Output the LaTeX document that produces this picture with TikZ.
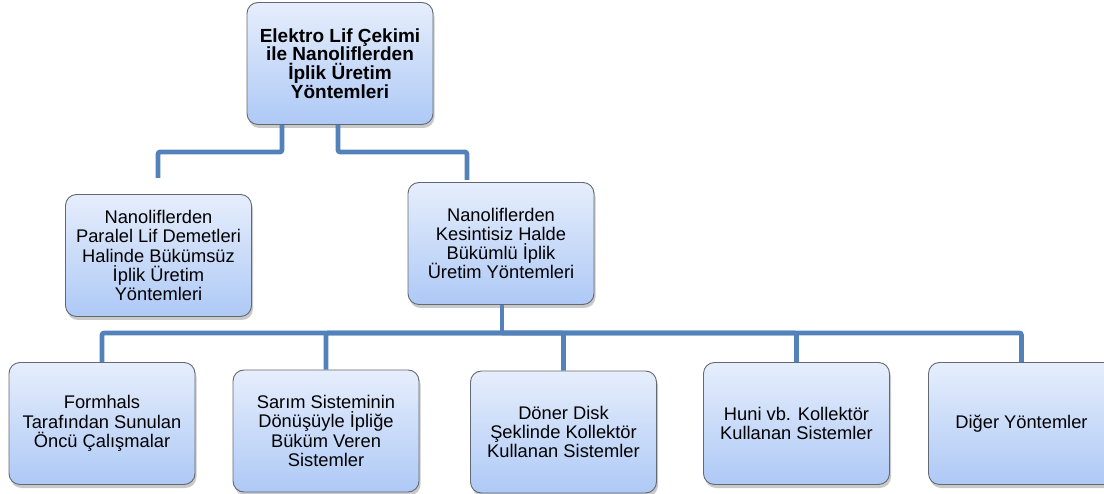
\documentclass[tikz,border=0pt]{standalone}
\usepackage{fontspec}
\setmainfont{Liberation Sans}
\usetikzlibrary{shadows}
\definecolor{conncol}{RGB}{83,129,185}
\definecolor{boxtop}{RGB}{230,238,252}
\definecolor{boxbot}{RGB}{174,201,246}
\definecolor{boxline}{RGB}{100,104,112}
\tikzset{
  box/.style={rectangle, rounded corners=11pt, draw=boxline, line width=0.9pt,
    top color=boxtop, bottom color=boxbot, align=center,
    minimum width=186pt, minimum height=122pt, inner sep=2pt,
    font=\fontsize{18.3}{19.2}\selectfont,
    drop shadow={shadow xshift=1.5pt, shadow yshift=-3.5pt, opacity=0.30, fill=black!70}},
  boldbox/.style={box, font=\fontsize{19}{18.6}\selectfont\bfseries},
  conn/.style={draw=conncol, line width=4.6pt, rounded corners=2pt}
}
\begin{document}
\begin{tikzpicture}[x=1pt,y=-1pt]
\useasboundingbox (0,0) rectangle (1104,494);
% nodes
\node[boldbox] (top) at (340,63.5) {Elektro Lif Çekimi\\ile Nanoliflerden\\İplik Üretim\\Yöntemleri};
\node[box] (midL) at (158.5,255.5) {Nanoliflerden\\Paralel Lif Demetleri\\Halinde Bükümsüz\\İplik Üretim\\Yöntemleri};
\node[box] (midR) at (501,243.5) {Nanoliflerden\\Kesintisiz Halde\\Bükümlü İplik\\Üretim Yöntemleri};
\node[box] (b1) at (102,423.5) {Formhals\\Tarafından Sunulan\\Öncü Çalışmalar};
\node[box] (b2) at (326,431) {Sarım Sisteminin\\Dönüşüyle İpliğe\\Büküm Veren\\Sistemler};
\node[box] (b3) at (563.5,432) {Döner Disk\\Şeklinde Kollektör\\Kullanan Sistemler};
\node[box] (b4) at (796.5,423.5) {Huni vb. Kollektör\\Kullanan Sistemler};
\node[box] (b5) at (1021.5,423.5) {Diğer Yöntemler};
% bend coordinates
\coordinate (tl) at (282,152);
\coordinate (tr) at (338,152);
\coordinate (endL) at (158,178);
\coordinate (endR) at (467,180);
\coordinate (bus) at (502,333);
% connectors
\draw[conn] (top.south -| tl) -- (tl) -| (endL);
\draw[conn] (top.south -| tr) -- (tr) -| (endR);
\draw[conn] (midR.south -| bus) -- (bus);
\draw[conn] (bus) -| (b1.north);
\draw[conn] (bus) -| (b2.north);
\draw[conn] (bus) -| (b3.north);
\draw[conn] (bus) -| (b4.north);
\draw[conn] (bus) -| (b5.north);
\end{tikzpicture}
\end{document}
